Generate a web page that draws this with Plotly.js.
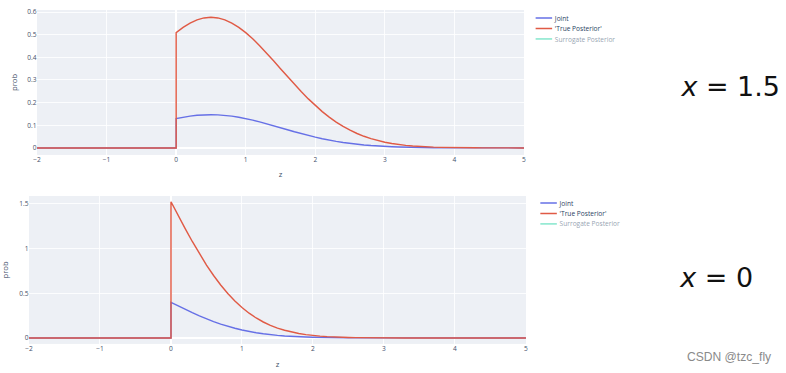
<!DOCTYPE html>
<html><head><meta charset="utf-8">
<script src="https://cdn.plot.ly/plotly-3.0.1.min.js"></script>
<style>
html,body{margin:0;padding:0;overflow:hidden;background:#fff}
#wrap{width:786px;height:373px;overflow:hidden;position:relative}
#chart{width:1429px;height:678px;transform:scale(0.55);transform-origin:0 0}
</style></head>
<body><div id="wrap"><div id="chart"></div></div>
<script>
// z grid: negative part (density 0) and positive part
const zNeg = [-2, 0];
const yNeg = [0, 0];
const zPos = [0,0.1,0.2,0.3,0.4,0.5,0.6,0.7,0.8,0.9,1.0,
  1.1,1.2,1.3,1.4,1.5,1.6,1.7,1.8,1.9,2.0,
  2.1,2.2,2.3,2.4,2.5,2.6,2.7,2.8,2.9,3.0,
  3.1,3.2,3.3,3.4,3.5,3.6,3.7,3.8,3.9,4.0,
  4.1,4.2,4.3,4.4,4.5,4.6,4.7,4.8,4.9,5.0];

// x = 1.5 panel
const jointTop = [0.1295,0.1355,0.1403,0.1439,0.1460,0.1468,0.1460,0.1439,0.1403,0.1355,0.1295,
  0.1226,0.1149,0.1066,0.0979,0.0890,0.0801,0.0714,0.0630,0.0551,0.0476,
  0.0408,0.0346,0.0290,0.0241,0.0199,0.0162,0.0131,0.0104,0.0082,0.0064,
  0.0050,0.0038,0.0029,0.0022,0.0016,0.0012,0.0009,0.0006,0.0005,0.0003,
  0.0002,0.0002,0.0001,0.0001,0,0,0,0,0,0];
const postTop = [0.5091,0.5325,0.5514,0.5654,0.5740,0.5768,0.5740,0.5654,0.5514,0.5325,0.5091,
  0.4818,0.4515,0.4189,0.3847,0.3499,0.3150,0.2808,0.2478,0.2165,0.1873,
  0.1604,0.1360,0.1142,0.0949,0.0781,0.0636,0.0513,0.0410,0.0324,0.0253,
  0.0196,0.0151,0.0114,0.0086,0.0064,0.0047,0.0034,0.0025,0.0018,0.0013,
  0.0009,0.0006,0.0004,0.0003,0.0002,0.0001,0.0001,0,0,0];

// x = 0 panel
const jointBot = [0.3989,0.3592,0.3202,0.2825,0.2469,0.2135,0.1829,0.1551,0.1302,0.1082,0.0890,
  0.0725,0.0585,0.0467,0.0369,0.0289,0.0224,0.0172,0.0131,0.0098,0.0073,
  0.0054,0.0039,0.0028,0.0020,0.0014,0.0010,0.0007,0.0005,0.0003,0.0002,
  0.0001,0,0,0,0,0,0,0,0,0,
  0,0,0,0,0,0,0,0,0,0];
const postBot = [1.5251,1.3731,1.2239,1.0801,0.9437,0.8164,0.6991,0.5928,0.4976,0.4136,0.3403,
  0.2772,0.2236,0.1786,0.1412,0.1105,0.0856,0.0657,0.0499,0.0375,0.0279,
  0.0206,0.0150,0.0109,0.0078,0.0055,0.0039,0.0027,0.0018,0.0013,0.0008,
  0.0006,0.0004,0.0002,0.0002,0.0001,0,0,0,0,0,
  0,0,0,0,0,0,0,0,0,0];

// Surrogate posterior is toggled off (legend only) in both panels: no visible values
const surrogateZ = [0];
const surrogateY = [null];

const seriesNames = ['Joint', "'True Posterior'", 'Surrogate Posterior'];
const seriesColors = ['#6670e6', '#e05a45', '#00cc96'];
const panelLabels = ['<i>x</i> = 1.5', '<i>x</i> = 0'];

const zAll = zNeg.concat(zPos);
function panel(joint, post, xa, ya, leg) {
  return [
    {x: zAll, y: yNeg.concat(joint), name: seriesNames[0], mode: 'lines', line: {color: seriesColors[0], width: 2.6}, xaxis: xa, yaxis: ya, legend: leg},
    {x: zAll, y: yNeg.concat(post), name: seriesNames[1], mode: 'lines', line: {color: seriesColors[1], width: 2.6}, xaxis: xa, yaxis: ya, legend: leg},
    {x: surrogateZ, y: surrogateY, name: seriesNames[2], mode: 'lines', visible: 'legendonly', line: {color: seriesColors[2], width: 2.6}, xaxis: xa, yaxis: ya, legend: leg}
  ];
}
const data = panel(jointTop, postTop, 'x', 'y', 'legend').concat(panel(jointBot, postBot, 'x2', 'y2', 'legend2'));

const tickFont = {family: 'Open Sans, verdana, arial, sans-serif', size: 12, color: '#44506a'};
const titleFont = {family: 'Open Sans, verdana, arial, sans-serif', size: 14, color: '#44506a'};
function xax(domain, anchor, standoff) {
  return {domain: domain, anchor: anchor, range: [-2, 5], dtick: 1, tick0: 0, showgrid: true, gridcolor: '#ffffff', gridwidth: 1.5,
    zeroline: true, zerolinecolor: '#ffffff', zerolinewidth: 2.5, showline: false, ticks: '', tickfont: tickFont,
    title: {text: 'z', font: titleFont, standoff: standoff}};
}
function yax(domain, anchor, range, dtick, standoff) {
  return {domain: domain, anchor: anchor, range: range, dtick: dtick, tick0: 0, showgrid: true, gridcolor: '#ffffff', gridwidth: 1.5,
    zeroline: true, zerolinecolor: '#ffffff', zerolinewidth: 2.5, showline: false, ticks: '', tickfont: tickFont,
    title: {text: 'prob', font: titleFont, standoff: standoff}};
}
const legFont = {family: 'Open Sans, verdana, arial, sans-serif', size: 12, color: '#2a3f5f'};
const layout = {
  width: 1429, height: 678,
  margin: {l: 0, r: 0, t: 0, b: 0},
  paper_bgcolor: '#ffffff', plot_bgcolor: '#EDF0F5',
  showlegend: true,
  xaxis: xax([0.0471, 0.6667], 'y', 14),
  yaxis: yax([0.5845, 0.9732], 'x', [-0.031, 0.609], 0.1, 15),
  xaxis2: xax([0.0369, 0.6692], 'y2', 16),
  yaxis2: yax([0.0777, 0.4745], 'x2', [-0.067, 1.59], 0.5, 29),
  legend: {x: 0.678, y: 0.973, xanchor: 'left', yanchor: 'top', font: legFont, bgcolor: 'rgba(0,0,0,0)'},
  legend2: {x: 0.684, y: 0.477, xanchor: 'left', yanchor: 'top', font: legFont, bgcolor: 'rgba(0,0,0,0)'},
  annotations: [
    {text: panelLabels[0], xref: 'paper', yref: 'paper', x: 0.9288, y: 0.7668, xanchor: 'center', yanchor: 'middle', showarrow: false,
      font: {family: 'DejaVu Sans', size: 49, color: '#111111'}},
    {text: panelLabels[1], xref: 'paper', yref: 'paper', x: 0.911, y: 0.2547, xanchor: 'center', yanchor: 'middle', showarrow: false,
      font: {family: 'DejaVu Sans', size: 49, color: '#111111'}},
    {text: 'CSDN @tzc_fly', xref: 'paper', yref: 'paper', x: 0.9275, y: 0.0429, xanchor: 'center', yanchor: 'middle', showarrow: false,
      font: {family: 'Liberation Sans, Arial, sans-serif', size: 22, color: '#8a8a8a'}}
  ]
};
Plotly.newPlot('chart', data, layout, {displayModeBar: false, responsive: false, staticPlot: true});
</script>
</body></html>
